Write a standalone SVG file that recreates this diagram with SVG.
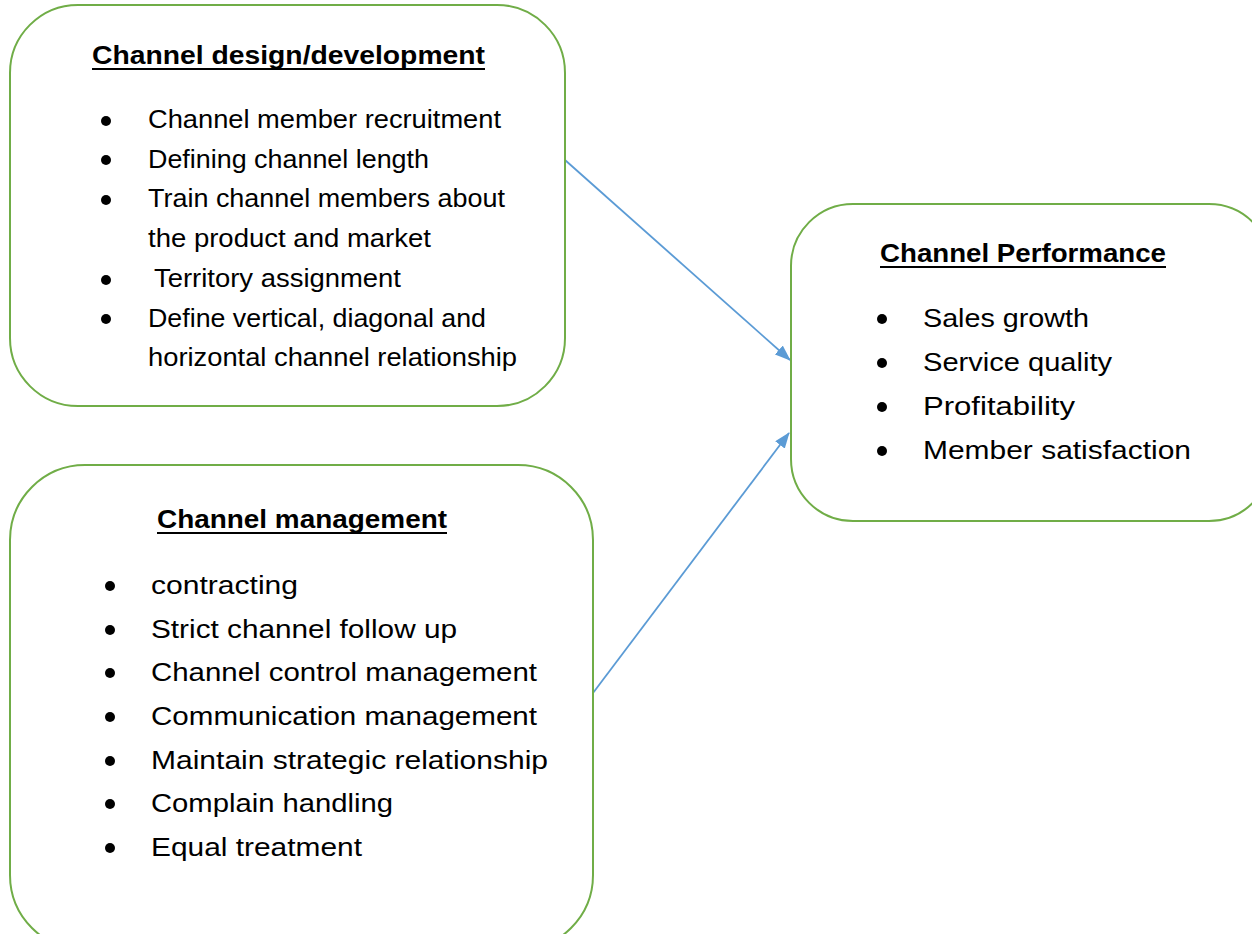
<svg xmlns="http://www.w3.org/2000/svg" width="1252" height="934" viewBox="0 0 1252 934">
<style>
.box{fill:#fff;stroke:#70AD47;stroke-width:2}
.t{font-family:"Liberation Sans",Arial,sans-serif;fill:#000}
.ttl{font-weight:bold;font-size:25px}
.s1{font-size:25px}
.s2{font-size:26px}
.ul{stroke:#000;stroke-width:2}
.conn{stroke:#5B9BD5;stroke-width:1.8;fill:none}
</style>
<defs>
<marker id="ah" viewBox="0 0 16 12" refX="15" refY="6" markerWidth="16" markerHeight="12" markerUnits="userSpaceOnUse" orient="auto">
<path d="M0,0 L16,6 L0,12 z" fill="#5B9BD5"/>
</marker>
</defs>
<rect width="1252" height="934" fill="#fff"/>
<g id="connectors">
<line class="conn" x1="565" y1="160" x2="790" y2="360" marker-end="url(#ah)"/>
<line class="conn" x1="593" y1="693" x2="789" y2="433" marker-end="url(#ah)"/>
</g>
<g id="design">
<rect class="box" x="10" y="5" width="555" height="401" rx="68" ry="68"/>
<text class="t ttl" x="92" y="64" textLength="393" lengthAdjust="spacingAndGlyphs">Channel design/development</text>
<line class="ul" x1="92" y1="69" x2="485" y2="69"/>
<circle cx="106" cy="121" r="5"/><circle cx="106" cy="160" r="5"/><circle cx="106" cy="200" r="5"/><circle cx="106" cy="280" r="5"/><circle cx="106" cy="319" r="5"/>
<text class="t s1" x="148" y="128" textLength="353" lengthAdjust="spacingAndGlyphs">Channel member recruitment</text>
<text class="t s1" x="148" y="168" textLength="281" lengthAdjust="spacingAndGlyphs">Defining channel length</text>
<text class="t s1" x="148" y="207" textLength="357" lengthAdjust="spacingAndGlyphs">Train channel members about</text>
<text class="t s1" x="148" y="247" textLength="283" lengthAdjust="spacingAndGlyphs">the product and market</text>
<text class="t s1" x="154" y="287" textLength="247" lengthAdjust="spacingAndGlyphs">Territory assignment</text>
<text class="t s1" x="148" y="327" textLength="338" lengthAdjust="spacingAndGlyphs">Define vertical, diagonal and</text>
<text class="t s1" x="148" y="366" textLength="369" lengthAdjust="spacingAndGlyphs">horizontal channel relationship</text>
</g>
<g id="management">
<rect class="box" x="10" y="465" width="583" height="485" rx="75" ry="75"/>
<text class="t ttl" x="157" y="528" textLength="290" lengthAdjust="spacingAndGlyphs">Channel management</text>
<line class="ul" x1="157" y1="533" x2="447" y2="533"/>
<circle cx="110" cy="586" r="5"/><circle cx="110" cy="630" r="5"/><circle cx="110" cy="673" r="5"/><circle cx="110" cy="717" r="5"/><circle cx="110" cy="761" r="5"/><circle cx="110" cy="804" r="5"/><circle cx="110" cy="848" r="5"/>
<text class="t s2" x="151" y="594" textLength="147" lengthAdjust="spacingAndGlyphs">contracting</text>
<text class="t s2" x="151" y="638" textLength="306" lengthAdjust="spacingAndGlyphs">Strict channel follow up</text>
<text class="t s2" x="151" y="681" textLength="386" lengthAdjust="spacingAndGlyphs">Channel control management</text>
<text class="t s2" x="151" y="725" textLength="386" lengthAdjust="spacingAndGlyphs">Communication management</text>
<text class="t s2" x="151" y="769" textLength="397" lengthAdjust="spacingAndGlyphs">Maintain strategic relationship</text>
<text class="t s2" x="151" y="812" textLength="242" lengthAdjust="spacingAndGlyphs">Complain handling</text>
<text class="t s2" x="151" y="856" textLength="211" lengthAdjust="spacingAndGlyphs">Equal treatment</text>
</g>
<g id="performance">
<rect class="box" x="791" y="204" width="480" height="317" rx="62" ry="62"/>
<text class="t ttl" x="880" y="262" textLength="286" lengthAdjust="spacingAndGlyphs">Channel Performance</text>
<line class="ul" x1="880" y1="267" x2="1166" y2="267"/>
<circle cx="882" cy="319" r="5"/><circle cx="882" cy="363" r="5"/><circle cx="882" cy="407" r="5"/><circle cx="882" cy="451" r="5"/>
<text class="t s2" x="923" y="327" textLength="166" lengthAdjust="spacingAndGlyphs">Sales growth</text>
<text class="t s2" x="923" y="371" textLength="189" lengthAdjust="spacingAndGlyphs">Service quality</text>
<text class="t s2" x="923" y="415" textLength="152" lengthAdjust="spacingAndGlyphs">Profitability</text>
<text class="t s2" x="923" y="459" textLength="268" lengthAdjust="spacingAndGlyphs">Member satisfaction</text>
</g>
</svg>
